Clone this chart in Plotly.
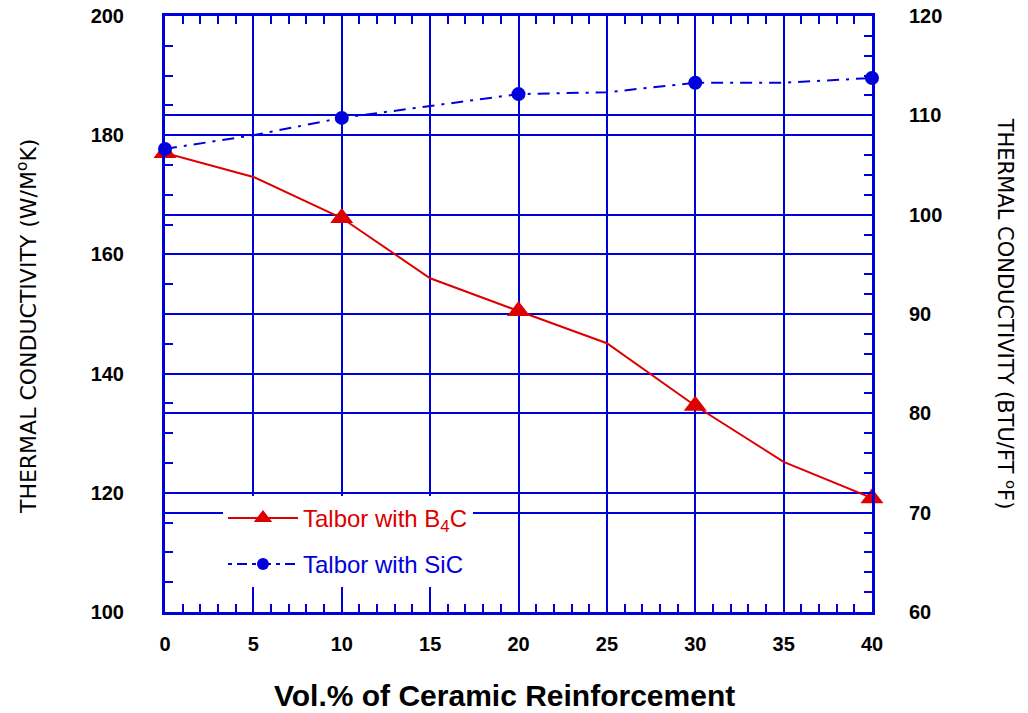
import plotly.graph_objects as go

# ---- data ----
vol_pct = [0, 5, 10, 15, 20, 25, 30, 35, 40]
b4c_tc = [177.0, 173.0, 166.1, 156.0, 150.5, 145.1, 134.6, 125.2, 119.1]
sic_tc = [177.7, 180.0, 182.9, 184.9, 186.9, 187.2, 188.8, 188.8, 189.6]
marker_x = [0, 10, 20, 30, 40]
b4c_marker = [177.0, 166.1, 150.5, 134.6, 119.1]
sic_marker = [177.7, 182.9, 186.9, 188.8, 189.6]
x_ticks = [0, 5, 10, 15, 20, 25, 30, 35, 40]
left_ticks = [100, 120, 140, 160, 180, 200]
right_ticks = [60, 70, 80, 90, 100, 110, 120]

BLUE = "#0000dd"
RED = "#dd0000"

fig = go.Figure()

fig.add_trace(go.Scatter(
    x=vol_pct, y=b4c_tc, mode="lines",
    line=dict(color=RED, width=2),
    showlegend=False, hoverinfo="skip", cliponaxis=False,
))
fig.add_trace(go.Scatter(
    x=marker_x, y=b4c_marker, mode="markers",
    marker=dict(symbol="triangle-up", size=20, color=RED),
    showlegend=False, cliponaxis=False,
))
fig.add_trace(go.Scatter(
    x=vol_pct, y=sic_tc, mode="lines",
    line=dict(color=BLUE, width=2, dash="12px,7px,3px,7px"),
    showlegend=False, hoverinfo="skip", cliponaxis=False,
))
fig.add_trace(go.Scatter(
    x=marker_x, y=sic_marker, mode="markers",
    marker=dict(symbol="circle", size=14, color=BLUE),
    showlegend=False, cliponaxis=False,
))

# legend entries
fig.add_trace(go.Scatter(
    x=[None], y=[None], mode="lines+markers",
    name='<span style="color:#dd0000">Talbor with B<sub>4</sub>C</span>',
    line=dict(color=RED, width=2),
    marker=dict(symbol="triangle-up", size=20, color=RED),
    legendgroup="a",
))
fig.add_trace(go.Scatter(
    x=[None], y=[None], mode="lines+markers",
    name='<span style="color:#0000dd">Talbor with SiC</span>',
    line=dict(color=BLUE, width=2, dash="4px,5px,10px,5px"),
    marker=dict(symbol="circle", size=12, color=BLUE),
    legendgroup="b",
))

# right-axis carrier (empty)
fig.add_trace(go.Scatter(x=[None], y=[None], yaxis="y2", showlegend=False, hoverinfo="skip"))

tickfont = dict(family="Liberation Sans, Arial, sans-serif", size=20, color="black", weight="bold")

fig.update_layout(
    width=1028, height=713,
    margin=dict(l=165, r=156, t=16, b=101),
    paper_bgcolor="white", plot_bgcolor="white",
    showlegend=True,
    legend=dict(
        x=0.082, y=0.195, xanchor="left", yanchor="top",
        bgcolor="white", borderwidth=0,
        font=dict(family="Liberation Sans, Arial, sans-serif", size=24),
        traceorder="grouped", tracegroupgap=12, itemwidth=70,
    ),
    xaxis=dict(
        range=[0, 40], tickmode="array", tickvals=x_ticks,
        ticktext=[str(v) for v in x_ticks], automargin=False,
        showline=True, linecolor=BLUE, linewidth=3, mirror="ticks",
        ticks="inside", ticklen=16, tickwidth=2, tickcolor=BLUE,
        showgrid=True, gridcolor=BLUE, gridwidth=2,
        minor=dict(dtick=1, ticks="inside", ticklen=8, tickwidth=2, tickcolor=BLUE, showgrid=False),
        tickfont=tickfont, ticklabelstandoff=12,
        zeroline=False, fixedrange=True,
    ),
    yaxis=dict(
        range=[100, 200], tickmode="array", tickvals=left_ticks,
        ticktext=[str(v) for v in left_ticks], automargin=False,
        showline=True, linecolor=BLUE, linewidth=3, mirror=False,
        ticks="inside", ticklen=8, tickwidth=2, tickcolor=BLUE,
        showgrid=True, gridcolor=BLUE, gridwidth=2,
        minor=dict(dtick=5, ticks="inside", ticklen=8, tickwidth=2, tickcolor=BLUE, showgrid=False),
        tickfont=tickfont, ticklabelstandoff=34,
        zeroline=False, fixedrange=True,
    ),
    yaxis2=dict(
        range=[60, 120], overlaying="y", side="right", anchor="x",
        tickmode="array", tickvals=right_ticks, automargin=False,
        ticktext=[str(v) for v in right_ticks],
        showline=True, linecolor=BLUE, linewidth=3,
        ticks="inside", ticklen=8, tickwidth=2, tickcolor=BLUE,
        showgrid=True, gridcolor=BLUE, gridwidth=2,
        minor=dict(dtick=2, ticks="inside", ticklen=8, tickwidth=2, tickcolor=BLUE, showgrid=False),
        tickfont=tickfont, ticklabelstandoff=30,
        zeroline=False, fixedrange=True,
    ),
    annotations=[
        dict(text="Vol.% of Ceramic Reinforcement", xref="paper", yref="paper",
             x=0.48, y=-0.14, xanchor="center", yanchor="middle", showarrow=False,
             font=dict(family="Liberation Sans, Arial, sans-serif", size=30, color="black", weight="bold")),
        dict(text="THERMAL CONDUCTIVITY (W/M<sup>o</sup>K)", xref="paper", yref="paper",
             x=-0.195, y=0.48, xanchor="center", yanchor="middle", showarrow=False, textangle=-90,
             font=dict(family="DejaVu Sans, sans-serif", size=22, color="black")),
        dict(text="THERMAL CONDUCTIVITY (BTU/FT <sup>o</sup>F)", xref="paper", yref="paper",
             x=1.19, y=0.5, xanchor="center", yanchor="middle", showarrow=False, textangle=90,
             font=dict(family="DejaVu Sans, sans-serif", size=21, color="black")),
    ],
)

fig.write_html("out.html")
